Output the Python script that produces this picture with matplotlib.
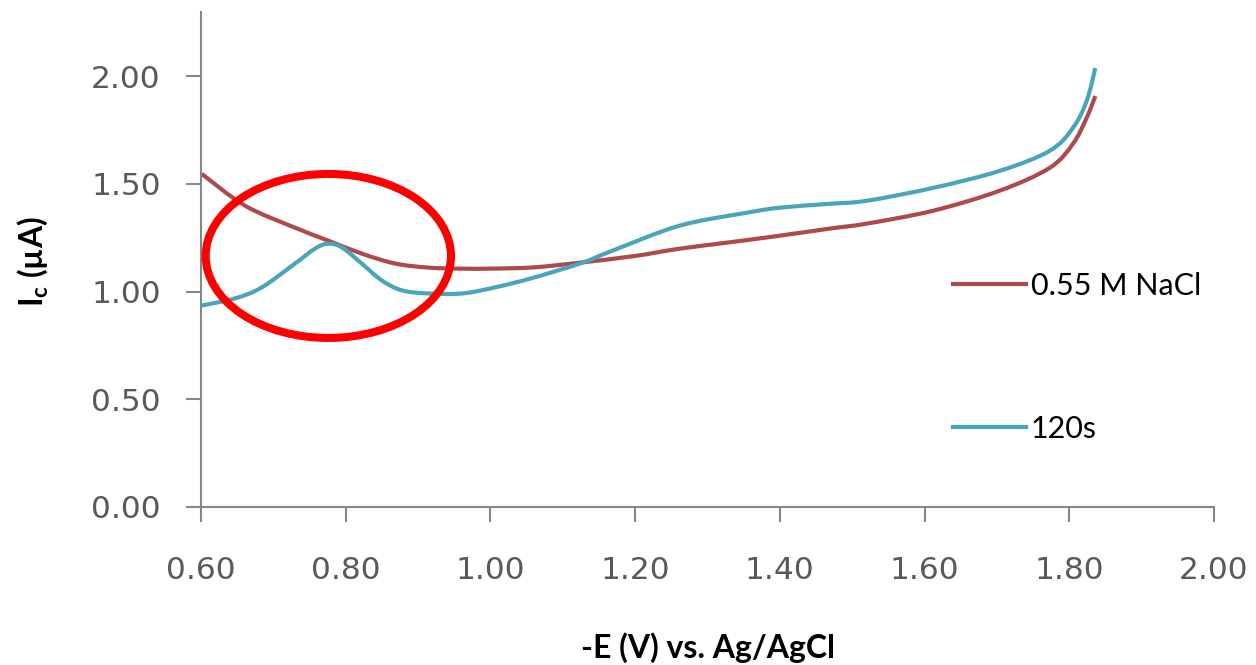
import numpy as np
import matplotlib
matplotlib.use('Agg')
import matplotlib.pyplot as plt
from matplotlib.patches import Ellipse, PathPatch
from matplotlib.path import Path
from matplotlib.lines import Line2D

# -E (V) vs. Ag/AgCl and cathodic current (uA)
e_nacl = [0.601, 0.661, 0.730, 0.776, 0.822, 0.868, 0.914, 0.960, 1.000, 1.060,
          1.124, 1.200, 1.262, 1.330, 1.400, 1.469, 1.520, 1.612, 1.704, 1.773,
          1.805, 1.824, 1.836]
i_nacl = [1.546, 1.398, 1.296, 1.236, 1.176, 1.130, 1.111, 1.106, 1.106, 1.112,
          1.134, 1.165, 1.199, 1.228, 1.259, 1.292, 1.315, 1.375, 1.468, 1.574,
          1.685, 1.806, 1.907]

e_120s = [0.601, 0.647, 0.684, 0.730, 0.758, 0.776, 0.795, 0.822, 0.850, 0.878,
          0.914, 0.961, 1.006, 1.055, 1.124, 1.169, 1.262, 1.355, 1.400, 1.469,
          1.520, 1.612, 1.704, 1.773, 1.805, 1.824, 1.836]
i_120s = [0.935, 0.968, 1.019, 1.130, 1.200, 1.222, 1.204, 1.130, 1.051, 1.005,
          0.991, 0.991, 1.019, 1.060, 1.130, 1.190, 1.306, 1.366, 1.389, 1.407,
          1.421, 1.481, 1.560, 1.653, 1.759, 1.884, 2.037]

labels = ['0.55 M NaCl', '120s']
x_ticks = [0.60, 0.80, 1.00, 1.20, 1.40, 1.60, 1.80, 2.00]
y_ticks = [0.00, 0.50, 1.00, 1.50, 2.00]

# highlighted peak region (data units)
hl_center = (0.776, 1.165)
hl_width = 0.339
hl_height = 0.761

red = '#AE4A4C'
blue = '#4AA5BC'
grey = '#595959'


def smooth_path(x, y):
    # excel-style smoothed line: catmull-rom segments as cubic beziers
    p = np.column_stack([x, y])
    pts = np.vstack([p[0], p, p[-1]])
    verts = [p[0]]
    codes = [Path.MOVETO]
    for k in range(1, len(pts) - 2):
        p0, p1, p2, p3 = pts[k - 1], pts[k], pts[k + 1], pts[k + 2]
        verts += [p1 + (p2 - p0) / 6, p2 - (p3 - p1) / 6, p2]
        codes += [Path.CURVE4] * 3
    return Path(verts, codes)


plt.rcParams['mathtext.fontset'] = 'custom'
plt.rcParams['mathtext.rm'] = 'Lato:bold'

fig = plt.figure(figsize=(12.56, 6.65), dpi=100)
ax = fig.add_axes([201 / 1256, 158 / 665, 1013 / 1256, 495 / 665])

for e, i, c in [(e_nacl, i_nacl, red), (e_120s, i_120s, blue)]:
    ax.add_patch(PathPatch(smooth_path(e, i), fill=False, edgecolor=c, lw=3.0,
                           capstyle='butt'))

ax.add_patch(Ellipse(hl_center, hl_width, hl_height, fill=False,
                     edgecolor='#FF0000', lw=5.8, zorder=5))

ax.set_xlim(0.60, 2.00)
ax.set_ylim(0.0, 2.297)
ax.set_xticks(x_ticks)
ax.set_yticks(y_ticks)
ax.set_xticklabels([f'{v:.2f}' for v in x_ticks])
ax.set_yticklabels([f'{v:.2f}' for v in y_ticks])

for side in ['top', 'right']:
    ax.spines[side].set_visible(False)
for side in ['left', 'bottom']:
    ax.spines[side].set_color('#868686')
    ax.spines[side].set_linewidth(1.5)
ax.tick_params(axis='both', direction='out', length=11, width=1.5,
               color='#868686', labelsize=22.5, labelcolor=grey)
ax.tick_params(axis='y', pad=18)
ax.tick_params(axis='x', pad=24)

handles = [Line2D([], [], color=red, lw=3.0), Line2D([], [], color=blue, lw=3.0)]
ax.legend(handles, labels, loc='upper left',
          bbox_to_anchor=(953 / 1256, (665 - 272) / 665),
          bbox_transform=fig.transFigure, frameon=False,
          prop={'family': 'Lato', 'size': 22}, handlelength=2.4,
          handletextpad=0.15, labelspacing=3.75, borderpad=0, borderaxespad=0)

fig.text(708 / 1256, (665 - 648) / 665, '-E (V) vs. Ag/AgCl', ha='center', va='center',
         family='Lato', weight='bold', fontsize=23)
fig.text(33 / 1256, (665 - 262) / 665, r'$\mathrm{I_c}$ (µA)', ha='center', va='center',
         rotation=90, family='Lato', weight='bold', fontsize=23)

fig.savefig('out.png', dpi=100)
